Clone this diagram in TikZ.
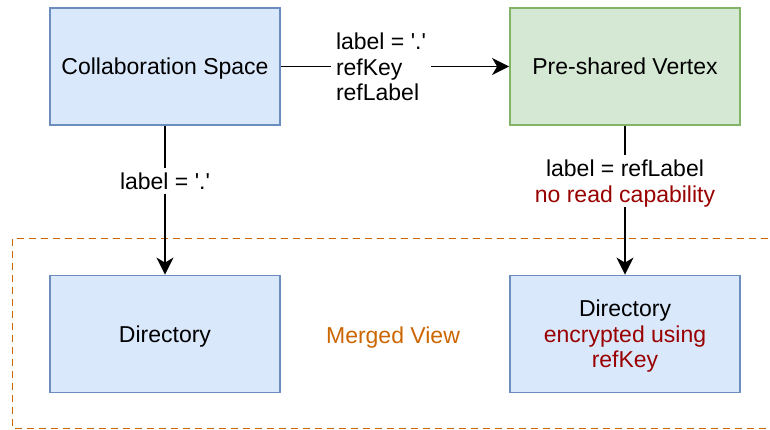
\documentclass[tikz,border=0pt]{standalone}
\usepackage{fontspec}
\setmainfont{Liberation Sans}
\usepackage{tikz}
\usetikzlibrary{positioning,arrows.meta}

\definecolor{blueFill}{HTML}{DAE8FC}
\definecolor{blueLine}{HTML}{6C8EBF}
\definecolor{greenFill}{HTML}{D5E8D4}
\definecolor{greenLine}{HTML}{82B366}
\definecolor{mergeOrange}{HTML}{CC6600}
\definecolor{darkRed}{HTML}{990000}

\newcommand{\dotq}{\textquotesingle.\textquotesingle}

\tikzset{
  box/.style={draw=blueLine, fill=blueFill, line width=1.8pt,
    minimum width=230pt, minimum height=117pt, align=center, text depth=0pt},
  greenbox/.style={box, draw=greenLine, fill=greenFill},
  edgelabel/.style={fill=white, inner xsep=5pt, inner ysep=5pt, text depth=0pt},
}

\begin{document}
\begin{tikzpicture}[x=1pt, y=-1pt, >={Stealth[length=17pt,width=17pt,inset=5pt]},
  font=\fontsize{23}{25.5}\selectfont, line width=1.8pt]
\useasboundingbox (0,0) rectangle (770,430);

% merged view (open on the right)
\draw[mergeOrange, dash pattern=on 7pt off 5pt] (780,238.5) -- (12.5,238.5) -- (12.5,428.5) -- (780,428.5);
\node[text=mergeOrange, text depth=0pt] (merged) at (393,335) {Merged View};

% top boxes
\node[box] (space) at (165,66.5) {Collaboration Space};
\node[greenbox] (vertex) at (625,66.5) {Pre-shared Vertex};

% bottom boxes
\node[box] (dirA) at (165,334) {Directory};
\node[box] (dirB) at (625,334) {Directory\\\textcolor{darkRed}{encrypted using}\\\textcolor{darkRed}{refKey}};

% arrows
\draw[->] (space) -- (vertex);
\draw[->] (space) -- (dirA);
\draw[->] (vertex) -- (dirB);

% arrow labels
\node[edgelabel, align=left] (shareLabel) at (381,67) {label = \dotq\\refKey\\refLabel};
\node[edgelabel] (dotLabel) at (165,181) {label = \dotq};
\node[edgelabel, align=center] (refLabel) at (625,181) {label = refLabel\\\textcolor{darkRed}{no read capability}};
\end{tikzpicture}
\end{document}
